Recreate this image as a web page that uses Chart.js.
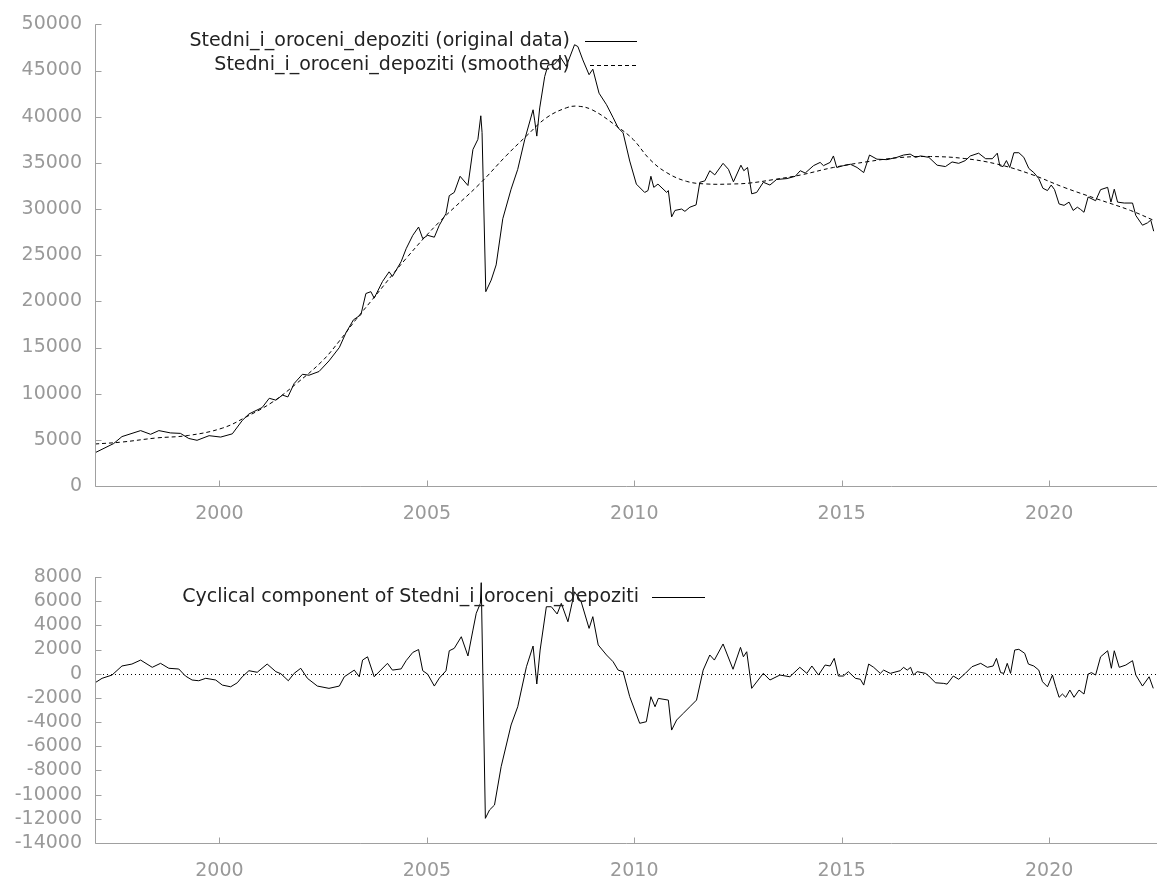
<!DOCTYPE html>
<html>
<head>
<meta charset="utf-8">
<script src="https://cdn.jsdelivr.net/npm/chart.js@4.4.1/dist/chart.umd.min.js"></script>
<style>
  html, body { margin: 0; padding: 0; background: #fff; }
  #topBox { position: absolute; left: 0; top: 0; width: 1163px; height: 530px; }
  #bottomBox { position: absolute; left: 0; top: 540px; width: 1163px; height: 338px; }
</style>
</head>
<body>
<div id="topBox"><canvas id="chartTop" width="1163" height="530"></canvas></div>
<div id="bottomBox"><canvas id="chartCycle" width="1163" height="338"></canvas></div>
<script>
const seriesName = 'Stedni_i_oroceni_depoziti';

// original data (dates as decimal years)
const origYear = [
  1997.00, 1997.45, 1997.65, 1998.10, 1998.34, 1998.54, 1998.82, 1999.06, 1999.26, 1999.46,
  1999.75, 2000.03, 2000.31, 2000.55, 2000.71, 2001.03, 2001.20, 2001.36, 2001.52, 2001.65,
  2001.80, 2002.00, 2002.16, 2002.40, 2002.64, 2002.89, 2003.05, 2003.23, 2003.41, 2003.53,
  2003.65, 2003.73, 2003.93, 2004.09, 2004.17, 2004.38, 2004.50, 2004.66, 2004.80, 2004.90,
  2005.02, 2005.18, 2005.30, 2005.46, 2005.54, 2005.66, 2005.80, 2005.99, 2006.11, 2006.23,
  2006.30, 2006.33, 2006.42, 2006.55, 2006.67, 2006.83, 2007.03, 2007.19, 2007.36, 2007.56,
  2007.60, 2007.65, 2007.72, 2007.84, 2007.92, 2008.08, 2008.22, 2008.36, 2008.56, 2008.64,
  2008.76, 2008.91, 2009.00, 2009.15, 2009.33, 2009.49, 2009.61, 2009.73, 2009.89, 2010.05,
  2010.25, 2010.33, 2010.40, 2010.47, 2010.57, 2010.78, 2010.82, 2010.90, 2010.98, 2011.14,
  2011.22, 2011.34, 2011.49, 2011.58, 2011.70, 2011.82, 2011.94, 2012.14, 2012.27, 2012.39,
  2012.57, 2012.64, 2012.73, 2012.83, 2012.95, 2013.11, 2013.27, 2013.43, 2013.68, 2013.88,
  2014.00, 2014.12, 2014.32, 2014.48, 2014.56, 2014.72, 2014.80, 2014.88, 2015.04, 2015.21,
  2015.37, 2015.53, 2015.67, 2015.85, 2016.09, 2016.33, 2016.49, 2016.65, 2016.78, 2016.90,
  2017.10, 2017.30, 2017.50, 2017.66, 2017.82, 2017.98, 2018.10, 2018.30, 2018.47, 2018.63,
  2018.75, 2018.81, 2018.89, 2018.97, 2019.05, 2019.15, 2019.27, 2019.39, 2019.51, 2019.63,
  2019.75, 2019.85, 2019.96, 2020.05, 2020.13, 2020.24, 2020.36, 2020.48, 2020.58, 2020.68,
  2020.76, 2020.84, 2020.94, 2021.12, 2021.24, 2021.41, 2021.49, 2021.57, 2021.65, 2021.81,
  2022.01, 2022.09, 2022.25, 2022.37, 2022.45, 2022.52
];
const origValue = [
  3600, 4600, 5350, 6000, 5600, 6000, 5750, 5700, 5150, 4950,
  5450, 5300, 5650, 7100, 7800, 8500, 9500, 9300, 9850, 9650,
  11100, 12100, 12000, 12400, 13550, 15000, 16600, 18000, 18550, 20850,
  21050, 20350, 22150, 23200, 22700, 24300, 25700, 27150, 28050, 26800,
  27150, 26950, 28250, 29500, 31450, 31800, 33550, 32550, 36450, 37550,
  40100, 38300, 21050, 22300, 23950, 28950, 32150, 34300, 37550, 40750,
  39550, 37900, 40950, 44350, 45600, 45700, 46450, 45450, 47800, 47600,
  46150, 44550, 45150, 42550, 41300, 39900, 38800, 38250, 35200, 32700,
  31800, 32000, 33550, 32350, 32700, 31800, 32000, 29150, 29850, 30000,
  29750, 30200, 30450, 32900, 33050, 34150, 33700, 34950, 34300, 32950,
  34750, 34150, 34500, 31650, 31800, 32900, 32600, 33200, 33300, 33550,
  34150, 33900, 34700, 35050, 34700, 35050, 35750, 34500, 34700, 34850,
  34500, 33950, 35850, 35400, 35350, 35600, 35850, 35950, 35600, 35750,
  35600, 34750, 34600, 35100, 34950, 35250, 35750, 36050, 35450, 35450,
  36050, 34700, 34600, 35250, 34500, 36100, 36100, 35600, 34400, 33950,
  33300, 32250, 32000, 32600, 32100, 30550, 30400, 30750, 29850, 30200,
  29950, 29650, 31300, 30900, 32100, 32350, 30750, 32150, 30750, 30650,
  30650, 29300, 28250, 28500, 28800, 27600
];

// smoothed trend
const trendYear = [
  1997.00, 1997.65, 1998.47, 1999.26, 2000.07, 2000.63, 2001.27, 2001.84, 2002.48, 2002.89,
  2003.29, 2003.65, 2004.50, 2005.30, 2006.27, 2006.91, 2007.40, 2007.88, 2008.36, 2008.64,
  2009.00, 2009.57, 2009.97, 2010.37, 2010.77, 2011.26, 2011.74, 2012.38, 2012.79, 2013.35,
  2014.00, 2014.80, 2015.61, 2016.41, 2017.14, 2017.95, 2018.75, 2019.55, 2020.35, 2021.15,
  2021.96, 2022.52
];
const trendValue = [
  4550, 4760, 5200, 5480, 6270, 7450, 9065, 11040, 13545, 15700,
  18030, 20000, 24650, 28600, 32715, 35765, 37915, 39880, 40960, 41140,
  40710, 38990, 37550, 35400, 33970, 33000, 32715, 32715, 32820, 33185,
  33680, 34505, 35120, 35580, 35690, 35475, 34860, 33790, 32360, 31100,
  29850, 28780
];

// cyclical component
const cycleYear = [
  1997.00, 1997.17, 1997.41, 1997.65, 1997.89, 1998.10, 1998.38, 1998.58, 1998.78, 1999.02,
  1999.18, 1999.34, 1999.50, 1999.67, 1999.91, 2000.07, 2000.27, 2000.43, 2000.55, 2000.71,
  2000.91, 2001.15, 2001.36, 2001.48, 2001.66, 2001.80, 2001.96, 2002.12, 2002.36, 2002.64,
  2002.89, 2003.01, 2003.25, 2003.37, 2003.45, 2003.57, 2003.73, 2004.05, 2004.17, 2004.38,
  2004.50, 2004.66, 2004.80, 2004.90, 2005.02, 2005.18, 2005.30, 2005.46, 2005.54, 2005.66,
  2005.83, 2005.99, 2006.11, 2006.19, 2006.29, 2006.31, 2006.41, 2006.51, 2006.63, 2006.79,
  2007.03, 2007.19, 2007.40, 2007.56, 2007.65, 2007.73, 2007.88, 2008.00, 2008.14, 2008.24,
  2008.40, 2008.56, 2008.72, 2008.91, 2009.00, 2009.13, 2009.33, 2009.49, 2009.61, 2009.73,
  2009.89, 2010.13, 2010.29, 2010.40, 2010.50, 2010.58, 2010.82, 2010.90, 2011.02, 2011.18,
  2011.34, 2011.50, 2011.66, 2011.82, 2011.93, 2012.14, 2012.38, 2012.56, 2012.63, 2012.71,
  2012.83, 2013.11, 2013.27, 2013.51, 2013.75, 2013.99, 2014.16, 2014.28, 2014.44, 2014.60,
  2014.72, 2014.82, 2014.92, 2015.04, 2015.16, 2015.33, 2015.45, 2015.53, 2015.65, 2015.77,
  2015.93, 2016.01, 2016.17, 2016.41, 2016.49, 2016.58, 2016.66, 2016.73, 2016.82, 2017.02,
  2017.10, 2017.26, 2017.46, 2017.54, 2017.69, 2017.82, 2017.98, 2018.14, 2018.35, 2018.51,
  2018.65, 2018.73, 2018.83, 2018.91, 2018.99, 2019.07, 2019.17, 2019.27, 2019.41, 2019.50,
  2019.63, 2019.75, 2019.84, 2019.96, 2020.08, 2020.16, 2020.24, 2020.32, 2020.40, 2020.50,
  2020.60, 2020.72, 2020.84, 2020.94, 2021.02, 2021.12, 2021.24, 2021.41, 2021.50, 2021.57,
  2021.69, 2021.85, 2022.01, 2022.09, 2022.25, 2022.41, 2022.51
];
const cycleValue = [
  -750, -380, -110, 640, 800, 1130, 530, 860, 450, 390,
  -190, -520, -580, -380, -520, -940, -1080, -750, -250, 250,
  120, 800, 170, 0, -580, 30, 450, -380, -1020, -1210,
  -1020, -250, 300, -250, 1130, 1400, -250, 860, 300, 400,
  1080, 1760, 2000, 250, -40, -1020, -360, 240, 1900, 2100,
  3060, 1470, 3610, 5000, 5820, 7530, -11960, -11270, -10860, -7690,
  -4240, -2730, 580, 2290, -850, 1960, 5540, 5540, 4940, 5820,
  4300, 6780, 5950, 3750, 4720, 2380, 1550, 990, 300, 170,
  -1900, -4100, -3970, -1900, -2730, -2040, -2180, -4660, -3830, -3280,
  -2730, -2180, 300, 1550, 1130, 2460, 370, 2180, 1400, 1820,
  -1210, 30, -520, -110, -250, 530, 30, 640, -110, 720,
  640, 1270, -190, -190, 170, -380, -460, -940, 800, 530,
  30, 300, 30, 250, 530, 300, 530, -110, 170, 30,
  -190, -750, -800, -860, -190, -460, 30, 580, 860, 530,
  640, 1270, 90, 30, 860, 30, 1960, 2020, 1690, 800,
  640, 300, -660, -1080, -110, -1080, -1950, -1680, -1950, -1350,
  -1950, -1350, -1680, -30, 90, -110, 1400, 1900, 450, 1900,
  530, 720, 1080, -110, -1020, -250, -1210
];

const tickFont = { family: '"DejaVu Sans", Verdana, sans-serif', size: 19 };
const tickColor = '#999999';
const axisColor = '#a0a0a0';

function toPoints(xs, ys) {
  return xs.map(function (x, i) { return { x: x, y: ys[i] }; });
}

// gnuplot-like frame: left/bottom border, inward ticks, key with samples
const gretlFrame = {
  id: 'gretlFrame',
  beforeDatasetsDraw(chart, args, opts) {
    if (!opts.zeroLine) return;
    const ctx = chart.ctx;
    const area = chart.chartArea;
    const y0 = Math.round(chart.scales.y.getPixelForValue(0)) + 0.5;
    ctx.save();
    ctx.strokeStyle = '#000';
    ctx.lineWidth = 1;
    ctx.setLineDash([1, 3]);
    ctx.beginPath();
    ctx.moveTo(area.left, y0);
    ctx.lineTo(area.right, y0);
    ctx.stroke();
    ctx.restore();
  },
  afterDraw(chart, args, opts) {
    const ctx = chart.ctx;
    const area = chart.chartArea;
    const xScale = chart.scales.x;
    const yScale = chart.scales.y;
    const left = Math.round(area.left) + 0.5;
    const bottom = Math.round(area.bottom) + 0.5;
    ctx.save();
    ctx.strokeStyle = axisColor;
    ctx.lineWidth = 1;
    ctx.beginPath();
    ctx.moveTo(left, area.top);
    ctx.lineTo(left, bottom);
    ctx.lineTo(area.right, bottom);
    yScale.ticks.forEach(function (t) {
      const p = Math.round(yScale.getPixelForValue(t.value)) + 0.5;
      ctx.moveTo(left, p);
      ctx.lineTo(left + 6, p);
    });
    xScale.ticks.forEach(function (t) {
      const p = Math.round(xScale.getPixelForValue(t.value)) + 0.5;
      ctx.moveTo(p, bottom);
      ctx.lineTo(p, bottom - 6);
    });
    ctx.stroke();

    // key
    ctx.font = '19px "DejaVu Sans", Verdana, sans-serif';
    ctx.textAlign = 'right';
    ctx.textBaseline = 'middle';
    (opts.key || []).forEach(function (k) {
      ctx.fillStyle = '#222';
      ctx.fillText(k.text, k.textRight, k.y);
      ctx.strokeStyle = '#000';
      ctx.setLineDash(k.dash || []);
      ctx.beginPath();
      ctx.moveTo(k.lineFrom, Math.round(k.y) + 0.5);
      ctx.lineTo(k.lineTo, Math.round(k.y) + 0.5);
      ctx.stroke();
      ctx.setLineDash([]);
    });
    ctx.restore();
  }
};

function xAxis(height) {
  return {
    type: 'linear',
    min: 1997,
    max: 2022.6,
    ticks: {
      stepSize: 5,
      includeBounds: false,
      color: tickColor,
      font: tickFont,
      padding: 17,
      maxRotation: 0,
      callback: function (v) { return String(v); }
    },
    grid: { display: false, drawTicks: false },
    border: { display: false },
    afterFit: function (scale) { scale.height = height; }
  };
}

function yAxis(min, max, step) {
  return {
    type: 'linear',
    min: min,
    max: max,
    ticks: {
      stepSize: step,
      autoSkip: false,
      color: tickColor,
      font: tickFont,
      padding: 13,
      callback: function (v) { return String(v); }
    },
    grid: { display: false, drawTicks: false },
    border: { display: false },
    afterFit: function (scale) { scale.width = 95; }
  };
}

var topConfig = {
  type: 'line',
  data: {
    datasets: [
      {
        label: seriesName + ' (original data)',
        data: toPoints(origYear, origValue),
        borderColor: '#000',
        borderWidth: 1,
        pointRadius: 0,
        tension: 0
      },
      {
        label: seriesName + ' (smoothed)',
        data: toPoints(trendYear, trendValue),
        borderColor: '#000',
        borderWidth: 1,
        borderDash: [4, 3],
        pointRadius: 0,
        tension: 0.4
      }
    ]
  },
  options: {
    responsive: false,
    animation: false,
    devicePixelRatio: 1,
    layout: { padding: { top: 21, right: 6, left: 0, bottom: 0 } },
    scales: {
      x: xAxis(44),
      y: yAxis(0, 50000, 5000)
    },
    plugins: {
      legend: { display: false },
      tooltip: { enabled: false },
      gretlFrame: {
        key: [
          { text: seriesName + ' (original data)', textRight: 570, y: 41, lineFrom: 585, lineTo: 637 },
          { text: seriesName + ' (smoothed)', textRight: 570, y: 65, lineFrom: 590, lineTo: 637, dash: [4, 3] }
        ]
      }
    }
  },
  plugins: [gretlFrame]
};

var cycleConfig = {
  type: 'line',
  data: {
    datasets: [
      {
        label: 'Cyclical component of ' + seriesName,
        data: toPoints(cycleYear, cycleValue),
        borderColor: '#000',
        borderWidth: 1,
        pointRadius: 0,
        tension: 0
      }
    ]
  },
  options: {
    responsive: false,
    animation: false,
    devicePixelRatio: 1,
    layout: { padding: { top: 37, right: 6, left: 0, bottom: 0 } },
    scales: {
      x: xAxis(35),
      y: yAxis(-14000, 8000, 2000)
    },
    plugins: {
      legend: { display: false },
      tooltip: { enabled: false },
      gretlFrame: {
        zeroLine: true,
        key: [
          { text: 'Cyclical component of ' + seriesName, textRight: 639, y: 57, lineFrom: 652, lineTo: 705 }
        ]
      }
    }
  },
  plugins: [gretlFrame]
};

var topChart = new Chart(document.getElementById('chartTop'), topConfig);
var cycleChart = new Chart(document.getElementById('chartCycle'), cycleConfig);
</script>
</body>
</html>
